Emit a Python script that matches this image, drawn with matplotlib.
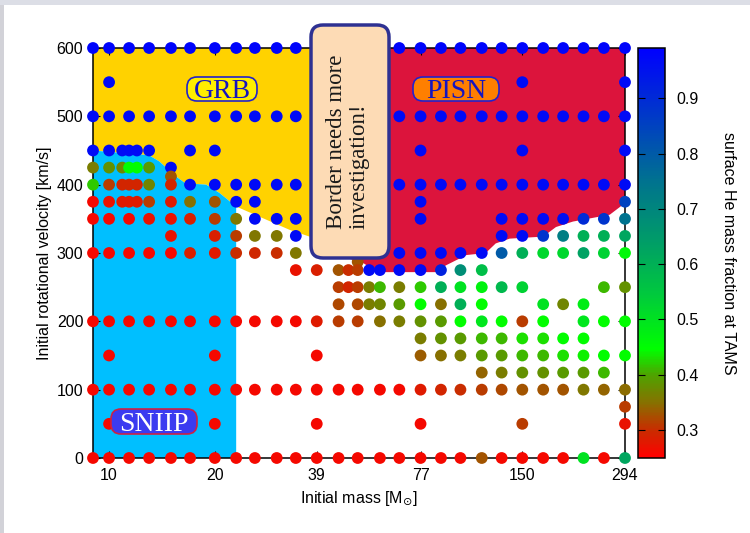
import numpy as np
import matplotlib
matplotlib.use('Agg')
import matplotlib.pyplot as plt
from matplotlib.colors import LinearSegmentedColormap, Normalize
from matplotlib.patches import Polygon, FancyBboxPatch, Rectangle
from matplotlib.transforms import IdentityTransform
from matplotlib.ticker import NullLocator
import matplotlib.cm as cm

plt.rcParams['font.family'] = ['Liberation Sans', 'DejaVu Sans']

W, H = 750, 533

# mass grid of the models (Msun)
grid = [9, 10, 11.4, 13, 15, 17, 20, 23, 26, 30, 34, 39, 45, 51, 59, 67,
        77, 88, 100, 115, 131, 150, 172, 196, 224, 256, 294]
fine = [9, 10, 10.9, 11.4, 12, 13]

# one block per initial rotational velocity: masses and surface He at TAMS
m_600 = grid;  he_600 = [0.98] * 27
m_550 = [10, 150, 294];  he_550 = [0.97, 0.97, 0.97]
m_500 = grid;  he_500 = [0.97] * 27
m_450 = fine + [17, 20, 77, 150, 294];  he_450 = [0.97] * 11
m_425 = fine + [15];  he_425 = [0.36, 0.38, 0.37, 0.445, 0.445, 0.39, 0.97]
m_412 = [15];  he_412 = [0.33]
m_400 = fine + grid[4:]
he_400 = [0.42, 0.31, 0.29, 0.29, 0.29, 0.37, 0.29] + [0.97] * 22
m_375 = fine + [15, 17, 20, 23, 26, 77, 294]
he_375 = [0.26, 0.27, 0.28, 0.28, 0.28, 0.31, 0.28, 0.35, 0.33, 0.97, 0.97, 0.97, 0.85]
m_350 = grid[:11] + [77, 131, 150, 172, 196, 224, 256, 294]
he_350 = [0.26, 0.26, 0.26, 0.27, 0.27, 0.285, 0.31, 0.355, 0.97, 0.97, 0.97,
          0.97, 0.97, 0.97, 0.97, 0.96, 0.9, 0.88, 0.75]
m_325 = [15, 20, 23, 26, 30, 34, 131, 150, 172, 196, 224, 256, 294]
he_325 = [0.27, 0.285, 0.31, 0.355, 0.355, 0.97, 0.97, 0.97, 0.88, 0.72, 0.6, 0.6, 0.62]
m_300 = grid[:11] + grid[15:]
he_300 = [0.26, 0.26, 0.26, 0.26, 0.26, 0.285, 0.28, 0.3, 0.295, 0.3, 0.355,
          0.97, 0.97, 0.97, 0.97, 0.97, 0.8, 0.6, 0.52, 0.52, 0.63, 0.53, 0.46]
m_287 = [51];  he_287 = [0.33]
m_275 = [34, 39, 45, 48, 51, 55, 59, 67, 77, 88, 100, 115]
he_275 = [0.27, 0.285, 0.33, 0.3, 0.31, 0.97, 0.97, 0.97, 0.97, 0.92, 0.68, 0.57]
m_250 = [45, 48, 51, 55, 59, 67, 77, 88, 100, 115, 131, 150, 256, 294]
he_250 = [0.31, 0.29, 0.31, 0.36, 0.41, 0.36, 0.42, 0.6, 0.5, 0.47, 0.58, 0.53, 0.41, 0.38]
m_225 = [45, 51, 55, 59, 67, 77, 88, 100, 115, 172, 196, 224]
he_225 = [0.32, 0.32, 0.36, 0.37, 0.39, 0.445, 0.35, 0.6, 0.445, 0.5, 0.37, 0.48]
m_200 = grid[:23] + grid[24:]
he_200 = [0.26] * 11 + [0.28, 0.31, 0.31, 0.35, 0.36, 0.38, 0.39, 0.445, 0.49,
                        0.445, 0.31, 0.445, 0.49, 0.445, 0.445]
m_175 = [77, 88, 100, 115, 131, 150, 172, 196, 224]
he_175 = [0.36, 0.38, 0.39, 0.41, 0.41, 0.43, 0.43, 0.445, 0.445]
m_150 = [10, 20, 39, 77, 88, 100, 115, 131, 150, 172, 196, 224, 256, 294]
he_150 = [0.26, 0.26, 0.26, 0.335, 0.35, 0.36, 0.39, 0.39, 0.41, 0.41, 0.43, 0.44, 0.445, 0.445]
m_125 = [115, 131, 150, 172, 196, 224, 256]
he_125 = [0.34, 0.36, 0.38, 0.38, 0.39, 0.39, 0.41]
m_100 = grid
he_100 = [0.26] * 16 + [0.28, 0.29, 0.3, 0.31, 0.32, 0.33, 0.33, 0.33, 0.355, 0.34, 0.345]
m_75 = [294];  he_75 = [0.31]
m_50 = [10, 20, 39, 77, 150, 294];  he_50 = [0.26, 0.26, 0.26, 0.26, 0.31, 0.27]
m_0 = grid
he_0 = [0.26] * 19 + [0.33, 0.26, 0.26, 0.26, 0.26, 0.5, 0.26, 0.62]

rows = [(600, m_600, he_600), (550, m_550, he_550), (500, m_500, he_500),
        (450, m_450, he_450), (425, m_425, he_425), (412, m_412, he_412),
        (400, m_400, he_400), (375, m_375, he_375), (350, m_350, he_350),
        (325, m_325, he_325), (300, m_300, he_300), (287, m_287, he_287),
        (275, m_275, he_275), (250, m_250, he_250), (225, m_225, he_225),
        (200, m_200, he_200), (175, m_175, he_175), (150, m_150, he_150),
        (125, m_125, he_125), (100, m_100, he_100), (75, m_75, he_75),
        (50, m_50, he_50), (0, m_0, he_0)]

# region outlines (mass, velocity)
grb_m = [9, 45, 45, 37.2, 32.6, 23, 20.6, 18.9, 16.5, 15.5, 13.9, 13, 9]
grb_v = [600, 600, 324, 324, 334, 368, 388, 400, 402, 412, 434, 443, 450]
sn_m = [9, 23, 23, 20.6, 18.9, 16.5, 15.5, 13.9, 13, 9]
sn_v = [0, 0, 368, 388, 400, 402, 412, 434, 443, 450]
pisn_m = [48, 294, 294, 266, 209, 187, 172, 138, 126, 118, 104, 91, 85, 58, 53, 48]
pisn_v = [600, 600, 373, 356, 346, 338, 324, 321, 314, 300, 297, 282, 272, 272, 285, 292]

he_ticks = [0.3, 0.4, 0.5, 0.6, 0.7, 0.8, 0.9]
mass_ticks = [10, 20, 39, 77, 150, 294]
vmin, vmax = 0.249, 0.991

nodes = [(0.249, (1, 0, 0)), (0.30, (0.78, 0.18, 0)), (0.35, (0.52, 0.45, 0)),
         (0.40, (0.3, 0.65, 0)), (0.445, (0, 1, 0)), (0.55, (0, 0.78, 0.25)),
         (0.65, (0, 0.6, 0.42)), (0.75, (0, 0.45, 0.56)), (0.85, (0, 0.26, 0.75)),
         (0.991, (0, 0, 1))]
cmap = LinearSegmentedColormap.from_list(
    'he', [((v - vmin) / (vmax - vmin), c) for v, c in nodes])
norm = Normalize(vmin, vmax)

fig = plt.figure(figsize=(W / 100, H / 100), dpi=100)
ax = fig.add_axes([93 / W, 75 / H, 532 / W, 410 / H])
ax.set_xscale('log')
ax.set_xlim(9, 294)
ax.set_ylim(0, 600)

ax.add_patch(Polygon(np.column_stack([grb_m, grb_v]), closed=True, fc='#FFD200', ec='none', zorder=1))
ax.add_patch(Polygon(np.column_stack([sn_m, sn_v]), closed=True, fc='#00BFFF', ec='none', zorder=1.1))
ax.add_patch(Polygon(np.column_stack([pisn_m, pisn_v]), closed=True, fc='#DC143C', ec='none', zorder=1))

mass = np.concatenate([r[1] for r in rows])
vrot = np.concatenate([[r[0]] * len(r[1]) for r in rows])
he = np.concatenate([r[2] for r in rows])
ax.scatter(mass, vrot, c=he, cmap=cmap, norm=norm, s=72, linewidths=0,
           clip_on=False, zorder=4)

ax.set_xticks(mass_ticks)
ax.set_xticklabels([str(t) for t in mass_ticks])
ax.xaxis.set_minor_locator(NullLocator())
ax.set_yticks(range(0, 601, 100))
ax.tick_params(direction='in', top=True, right=True, length=5, labelsize=11.5, pad=7)
for s in ax.spines.values():
    s.set_linewidth(1.1)
ax.set_xlabel(r'Initial mass [M$_{\odot}$]', fontsize=11.5, labelpad=5)
ax.set_ylabel('Initial rotational velocity [km/s]', fontsize=11.5, labelpad=3)

cax = fig.add_axes([638 / W, 75 / H, 27 / W, 410 / H])
sm = cm.ScalarMappable(norm=norm, cmap=cmap)
cb = fig.colorbar(sm, cax=cax, ticks=he_ticks)
cb.ax.tick_params(direction='in', left=True, right=True, length=5, labelsize=11.5, pad=8)
cb.outline.set_linewidth(1.1)
cb.set_label('surface He mass fraction at TAMS', rotation=270, fontsize=11.5, labelpad=27)


def label_box(cx, cy, w, h, text, fc, ec, tc, size, r=10):
    y = H - cy
    fig.add_artist(FancyBboxPatch((cx - w / 2, y - h / 2), w, h,
                                  boxstyle=f'round,pad=0,rounding_size={r}',
                                  transform=IdentityTransform(), fc=fc, ec=ec,
                                  lw=1.2, zorder=5))
    cap = 0.66 * size * 100 / 72
    fig.text(cx / W, (y - cap / 2) / H, text, ha='center', va='baseline',
             color=tc, fontsize=size, family=['Liberation Serif', 'DejaVu Serif'], zorder=6)


label_box(222, 89, 70, 24, 'GRB', '#FFEE00', '#2222CC', '#1515C0', 20)
label_box(456, 89, 86, 24, 'PISN', '#FF7F00', '#2222CC', '#1515C0', 20)
label_box(154, 421.5, 86, 25, 'SNIIP', '#3B3BF0', '#CC2244', 'white', 20)

# note box over the GRB/PISN transition
fig.add_artist(FancyBboxPatch((311, H - 258), 78, 233,
                              boxstyle='round,pad=0,rounding_size=12',
                              transform=IdentityTransform(), fc='#FDDBB5',
                              ec='#2E3192', lw=2.5, zorder=5))
fig.text(348 / W, (H - 141.5) / H, 'Border needs more\ninvestigation!',
         rotation=90, ha='center', va='center', multialignment='left',
         linespacing=1.1, fontsize=16.5, color='#1a1a1a',
         family=['Liberation Serif', 'DejaVu Serif'], zorder=6)

# slide frame edges
fig.add_artist(Rectangle((0, 0), 4 / W, 1, transform=fig.transFigure, fc='#D2D2D8', ec='none'))
fig.add_artist(Rectangle((0, 1 - 5 / H), 1, 5 / H, transform=fig.transFigure, fc='#DCDEE6', ec='none'))

fig.savefig('out.png', dpi=100)
